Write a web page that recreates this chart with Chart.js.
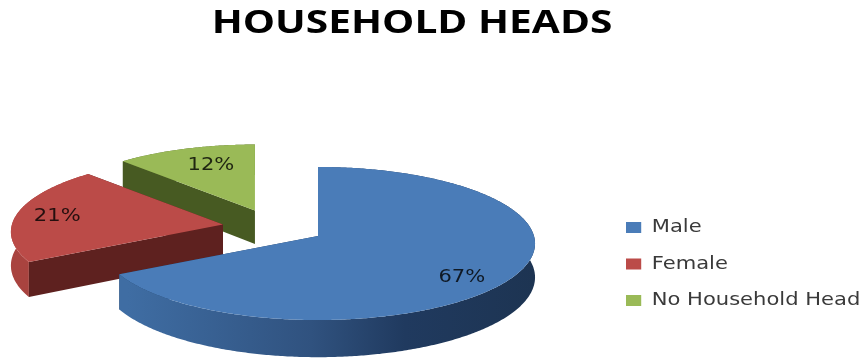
<!DOCTYPE html>
<html>
<head>
<meta charset="utf-8">
<style>
  html, body { margin: 0; padding: 0; background: #fff; }
  #wrap { width: 867px; height: 358px; }
</style>
<script src="https://cdn.jsdelivr.net/npm/chart.js@4/dist/chart.umd.min.js"></script>
</head>
<body>
<div id="wrap"><canvas id="chart" width="867" height="358"></canvas></div>
<script>
const categories = ['Male', 'Female', 'No Household Head'];
const shares = [67, 21, 12];
const chartTitle = 'HOUSEHOLD HEADS';

const topColors = ['#4a7cb8', '#bb4b48', '#9aba57'];
const cutFaceColors = ['#1f3a5c', '#5e211f', '#475a22'];

// Perspective view of the pie: radius-1 ground coordinates to pixels.
const view = { originX: 318, originY: 236, scaleX: 216, scaleY: 75.8, recede: 0.098, depth: 33.5 };
// Each slice's pull from the centre in radius units (across, back) and its size.
const explode = [[0, 0, 1], [-0.44, 0.152, 0.977], [-0.292, 0.335, 0.957]];
// Where each percentage sits inside its slice: fraction of radius, angle change in degrees.
const labelSpots = [[0.82, 9], [0.80, -1.5], [0.70, 2.7]];
// The lettering is set wide: horizontal stretch for title, legend and percentages.
const titleStretch = 1.27;
const legendStretch = 1.17;
const legendLeft = 626;
const titleCentre = 412;

function project(ex, u, v, drop) {
  const d = 1 + view.recede * v;
  return {
    x: view.originX + view.scaleX * (ex[0] + ex[2] * u / d),
    y: view.originY - view.scaleY * (ex[1] + ex[2] * v / d) + (drop ? view.depth / d : 0)
  };
}

function tracePolygon(ctx, pts) {
  ctx.beginPath();
  pts.forEach((p, i) => (i ? ctx.lineTo(p.x, p.y) : ctx.moveTo(p.x, p.y)));
  ctx.closePath();
}

function rimPoints(arc, ex, drop) {
  const pts = [];
  const steps = Math.ceil((arc.endAngle - arc.startAngle) / 0.01);
  for (let i = 0; i <= steps; i++) {
    // Arc angles start from +x; the view measures clockwise from the far side.
    const t = arc.startAngle + (arc.endAngle - arc.startAngle) * i / steps + Math.PI / 2;
    pts.push(project(ex, Math.sin(t), Math.cos(t), drop));
  }
  return pts;
}

function wallPaint(ctx, index) {
  if (index === 0) {
    const g = ctx.createLinearGradient(view.originX - 190, 0, view.originX + 217, 0);
    g.addColorStop(0, '#3f6da3');
    g.addColorStop(0.45, '#30527f');
    g.addColorStop(0.68, '#203a5f');
    g.addColorStop(1, '#1d3452');
    return g;
  }
  return index === 1 ? '#a9433f' : '#566b2b';
}

function stretchDraw(block, ctx, from, to, factor) {
  const draw = block.draw;
  block.draw = function (c) {
    ctx.save();
    ctx.translate(to, 0);
    ctx.scale(factor, 1);
    ctx.translate(-from(), 0);
    draw.call(block, c);
    ctx.restore();
  };
}

const pie3d = {
  id: 'pie3d',
  afterInit(chart) {
    const { ctx, titleBlock, legend } = chart;
    stretchDraw(titleBlock, ctx, () => (titleBlock.left + titleBlock.right) / 2, titleCentre, titleStretch);
    stretchDraw(legend, ctx, () => legend.legendHitBoxes[0].left, legendLeft, legendStretch);
  },
  beforeDatasetsDraw(chart) {
    const { ctx } = chart;
    const arcs = chart.getDatasetMeta(0).data;
    // Far slices first so nearer ones overlap them.
    [2, 1, 0].forEach(i => {
      const arc = arcs[i];
      const ex = explode[i];
      const top = rimPoints(arc, ex, false);
      const low = rimPoints(arc, ex, true);
      const apexTop = project(ex, 0, 0, false);
      const apexLow = project(ex, 0, 0, true);
      ctx.save();
      // Trailing cut face, outer wall, then leading cut face, then the lid.
      ctx.fillStyle = cutFaceColors[i];
      tracePolygon(ctx, [apexTop, top[top.length - 1], low[low.length - 1], apexLow]);
      ctx.fill();
      ctx.fillStyle = wallPaint(ctx, i);
      tracePolygon(ctx, top.concat(low.slice().reverse()));
      ctx.fill();
      ctx.fillStyle = cutFaceColors[i];
      tracePolygon(ctx, [apexTop, top[0], low[0], apexLow]);
      ctx.fill();
      ctx.fillStyle = topColors[i];
      tracePolygon(ctx, [apexTop].concat(top));
      ctx.fill();
      ctx.restore();
    });
    // Percentage labels on the lids.
    arcs.forEach((arc, i) => {
      const [rho, turn] = labelSpots[i];
      const mid = (arc.startAngle + arc.endAngle) / 2 + Math.PI / 2 + turn * Math.PI / 180;
      const p = project(explode[i], rho * Math.sin(mid), rho * Math.cos(mid), false);
      ctx.save();
      ctx.translate(p.x, p.y);
      ctx.scale(legendStretch, 1);
      ctx.font = '18px "DejaVu Sans"';
      ctx.textAlign = 'center';
      ctx.textBaseline = 'middle';
      ctx.fillStyle = 'rgba(0,0,0,0.8)';
      ctx.fillText(shares[i] + '%', 0, 0);
      ctx.restore();
    });
    return false;
  }
};

new Chart(document.getElementById('chart'), {
  type: 'pie',
  data: {
    labels: categories,
    datasets: [{ data: shares, backgroundColor: topColors, borderWidth: 0 }]
  },
  plugins: [pie3d],
  options: {
    responsive: false,
    animation: false,
    layout: { padding: { bottom: 30 } },
    plugins: {
      title: {
        display: true,
        text: chartTitle,
        color: '#000',
        font: { family: '"Open Sans"', size: 32, weight: 'bold', lineHeight: 1.2 },
        padding: { top: 5, bottom: 101 }
      },
      legend: {
        position: 'right',
        align: 'end',
        labels: {
          boxWidth: 13,
          boxHeight: 11,
          padding: 18.5,
          color: '#3a3a3a',
          font: { family: '"DejaVu Sans"', size: 18 }
        }
      },
      tooltip: { enabled: false }
    }
  }
});
</script>
</body>
</html>
